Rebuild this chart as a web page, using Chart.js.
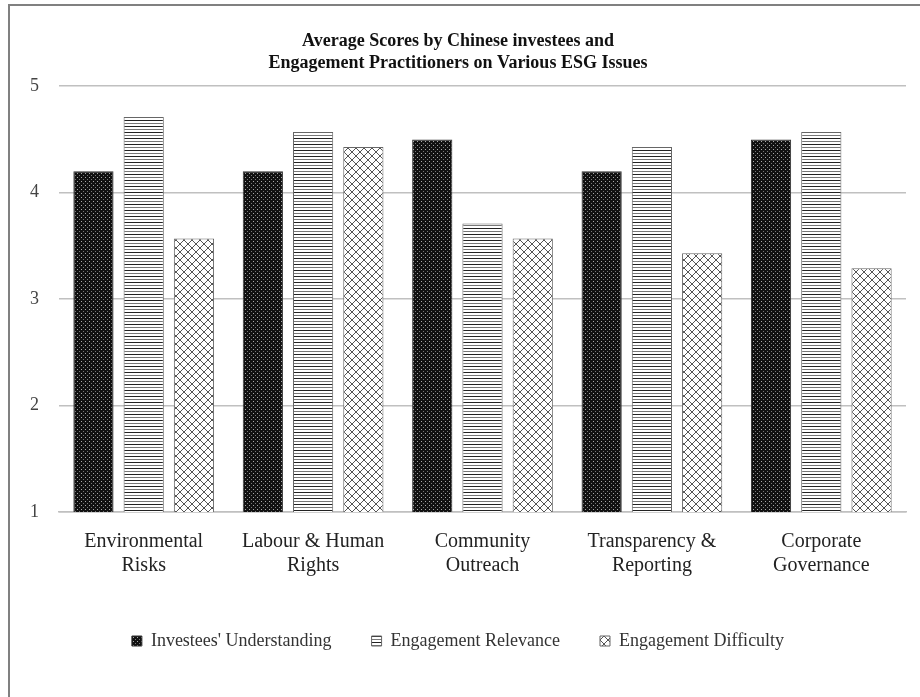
<!DOCTYPE html>
<html>
<head>
<meta charset="utf-8">
<script src="https://cdn.jsdelivr.net/npm/chart.js@4"></script>
<style>
  html, body { margin: 0; padding: 0; background: #fff; }
  #wrap { position: relative; width: 920px; height: 697px; }
  #frame { position: absolute; left: 8px; top: 4px; right: 0; bottom: 0;
           border-left: 2px solid #808080; border-top: 2px solid #808080; }
  canvas { position: absolute; left: 0; top: 0; }
</style>
</head>
<body>
<div id="wrap">
  <div id="frame"></div>
  <canvas id="esg" width="920" height="697"></canvas>
</div>
<script>
const issues = [
    ['Environmental', 'Risks'],
    ['Labour & Human', 'Rights'],
    ['Community', 'Outreach'],
    ['Transparency &', 'Reporting'],
    ['Corporate', 'Governance']
]
const understanding = [4.2, 4.2, 4.5, 4.2, 4.5]
const relevance = [4.71, 4.57, 3.71, 4.43, 4.57]
const difficulty = [3.57, 4.43, 3.57, 3.43, 3.29]
const yTicks = [1, 2, 3, 4, 5]

const serif = "'Liberation Serif', 'DejaVu Serif', serif"

// small tiles used as bar fills
function tile(w, h, draw) {
    const c = document.createElement('canvas')
    c.width = w
    c.height = h
    const ctx = c.getContext('2d')
    draw(ctx)
    return document.getElementById('esg').getContext('2d').createPattern(c, 'repeat')
}

const dotted = tile(4, 4, (ctx) => {
    ctx.fillStyle = '#111'
    ctx.fillRect(0, 0, 4, 4)
    ctx.fillStyle = '#aaa'
    ctx.fillRect(1, 1, 1, 1)
    ctx.fillStyle = '#777'
    ctx.fillRect(3, 3, 1, 1)
})

const striped = tile(1, 6, (ctx) => {
    ctx.fillStyle = '#fff'
    ctx.fillRect(0, 0, 1, 6)
    ctx.fillStyle = '#222'
    ctx.fillRect(0, 0, 1, 1)
    ctx.fillStyle = '#777'
    ctx.fillRect(0, 3, 1, 1)
})

const hatched = tile(8, 8, (ctx) => {
    ctx.fillStyle = '#fff'
    ctx.fillRect(0, 0, 8, 8)
    ctx.strokeStyle = '#555'
    ctx.lineWidth = 1
    ctx.beginPath()
    ctx.moveTo(0, 0); ctx.lineTo(8, 8)
    ctx.moveTo(8, 0); ctx.lineTo(0, 8)
    ctx.stroke()
})

const esg = new Chart(
    document.getElementById('esg'),
    {
        type: 'bar',
        data: {
            labels: issues,
            datasets: [
                {
                    label: "Investees' Understanding",
                    data: understanding,
                    backgroundColor: dotted,
                    borderColor: '#333',
                    borderWidth: 1
                },
                {
                    label: 'Engagement Relevance',
                    data: relevance,
                    backgroundColor: striped,
                    borderColor: '#666',
                    borderWidth: 1
                },
                {
                    label: 'Engagement Difficulty',
                    data: difficulty,
                    backgroundColor: hatched,
                    borderColor: '#666',
                    borderWidth: 1
                }
            ]
        },
        options: {
            responsive: false,
            animation: false,
            categoryPercentage: 0.89,
            barPercentage: 0.8,
            layout: {
                padding: { left: 10, right: 14, top: 0, bottom: 37 }
            },
            plugins: {
                title: {
                    display: true,
                    text: ['Average Scores by Chinese investees and', 'Engagement Practitioners on Various ESG Issues'],
                    color: '#111',
                    font: { family: serif, size: 18, weight: 'bold', lineHeight: 1.2 },
                    padding: { top: 31, bottom: 12 }
                },
                legend: {
                    position: 'bottom',
                    labels: {
                        color: '#333',
                        font: { family: serif, size: 18 },
                        boxWidth: 10,
                        boxHeight: 10,
                        padding: 40
                    }
                },
                tooltip: { enabled: false }
            },
            scales: {
                y: {
                    min: 1,
                    max: 5,
                    afterBuildTicks: (axis) => {
                        axis.ticks = yTicks.map((v) => ({ value: v }))
                    },
                    ticks: {
                        color: '#444',
                        font: { family: serif, size: 18 },
                        padding: 20
                    },
                    grid: {
                        color: '#c0c0c0',
                        lineWidth: 1.5,
                        drawTicks: false
                    },
                    border: { display: false }
                },
                x: {
                    afterFit: (scale) => {
                        // extra room under the category labels
                        scale.height += 4
                    },
                    ticks: {
                        color: '#222',
                        font: { family: serif, size: 20 },
                        padding: 10,
                        maxRotation: 0
                    },
                    grid: { display: false },
                    border: { color: '#c0c0c0', width: 1.5 }
                }
            }
        }
    }
)
</script>
</body>
</html>
